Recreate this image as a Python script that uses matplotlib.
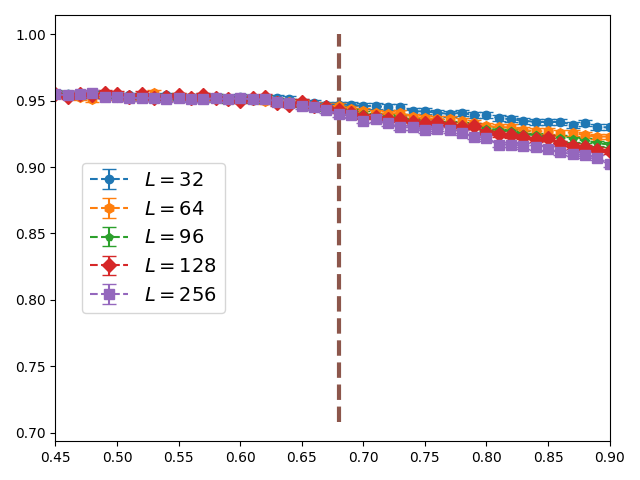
import numpy as np
import matplotlib
matplotlib.use("Agg")
import matplotlib.pyplot as plt

# control parameter values
x = [0.45, 0.46, 0.47, 0.48, 0.49, 0.50, 0.51, 0.52, 0.53, 0.54, 0.55, 0.56,
     0.57, 0.58, 0.59, 0.60, 0.61, 0.62, 0.63, 0.64, 0.65, 0.66, 0.67, 0.68,
     0.69, 0.70, 0.71, 0.72, 0.73, 0.74, 0.75, 0.76, 0.77, 0.78, 0.79, 0.80,
     0.81, 0.82, 0.83, 0.84, 0.85, 0.86, 0.87, 0.88, 0.89, 0.90]

sizes = [32, 64, 96, 128, 256]

y_32 = [0.956, 0.955, 0.954, 0.955, 0.955, 0.954, 0.954, 0.953, 0.953, 0.954, 0.953, 0.953,
        0.954, 0.953, 0.952, 0.953, 0.952, 0.952, 0.952, 0.951, 0.949, 0.948, 0.947,
        0.947, 0.947, 0.946, 0.946, 0.945, 0.945, 0.942, 0.942, 0.941, 0.940, 0.941, 0.939,
        0.939, 0.937, 0.936, 0.935, 0.934, 0.934, 0.934, 0.932, 0.933, 0.930, 0.930]
y_64 = [0.955, 0.954, 0.953, 0.951, 0.954, 0.953, 0.952, 0.953, 0.956, 0.952, 0.954, 0.953,
        0.953, 0.952, 0.951, 0.952, 0.951, 0.950, 0.950, 0.949, 0.948, 0.947, 0.946,
        0.946, 0.944, 0.942, 0.941, 0.940, 0.941, 0.938, 0.937, 0.936, 0.936, 0.935, 0.933,
        0.931, 0.930, 0.930, 0.928, 0.927, 0.927, 0.926, 0.926, 0.924, 0.923, 0.923]
y_96 = [0.955, 0.955, 0.954, 0.954, 0.955, 0.954, 0.953, 0.954, 0.952, 0.953, 0.953, 0.952,
        0.951, 0.953, 0.950, 0.951, 0.950, 0.952, 0.950, 0.949, 0.947, 0.945, 0.944,
        0.944, 0.942, 0.940, 0.939, 0.938, 0.937, 0.935, 0.934, 0.934, 0.933, 0.932, 0.931,
        0.929, 0.928, 0.927, 0.925, 0.924, 0.922, 0.922, 0.921, 0.920, 0.918, 0.917]
y_128 = [0.955, 0.953, 0.955, 0.954, 0.956, 0.955, 0.953, 0.955, 0.952, 0.953, 0.954, 0.952,
         0.954, 0.952, 0.951, 0.950, 0.952, 0.953, 0.948, 0.947, 0.949, 0.946, 0.945,
         0.943, 0.941, 0.938, 0.938, 0.936, 0.936, 0.934, 0.933, 0.934, 0.932, 0.930, 0.931,
         0.926, 0.925, 0.924, 0.923, 0.921, 0.922, 0.918, 0.916, 0.915, 0.913, 0.912]
y_256 = [0.955, 0.954, 0.955, 0.956, 0.953, 0.953, 0.952, 0.952, 0.952, 0.951, 0.952, 0.951,
         0.951, 0.952, 0.951, 0.952, 0.951, 0.951, 0.949, 0.948, 0.946, 0.945, 0.943,
         0.940, 0.939, 0.935, 0.936, 0.933, 0.930, 0.930, 0.928, 0.929, 0.928, 0.926, 0.923,
         0.922, 0.917, 0.917, 0.916, 0.915, 0.914, 0.911, 0.910, 0.909, 0.907, 0.902]

errors = [0.0022, 0.0022, 0.002, 0.002, 0.002]

x_c = 0.68
vline_y = [0.708, 1.0]

series = [y_32, y_64, y_96, y_128, y_256]
markers = ['o', 'h', 'p', 'D', 's']
msizes = [6, 7, 5.5, 7, 6.5]

fig, ax = plt.subplots(figsize=(6.4, 4.8))
for L, y, e, m, ms in zip(sizes, series, errors, markers, msizes):
    ax.errorbar(x, y, yerr=e, fmt='--' + m, markersize=ms, capsize=5,
                label=r'$L = %d$' % L)

ax.vlines(x_c, vline_y[0], vline_y[1], colors='tab:brown', linestyles='--', linewidth=3)

ax.set_xlim(0.45, 0.90)
ax.legend(loc='center left', bbox_to_anchor=(0.03, 0.477), fontsize=14)
plt.tight_layout()
plt.savefig("out.png", dpi=100)
